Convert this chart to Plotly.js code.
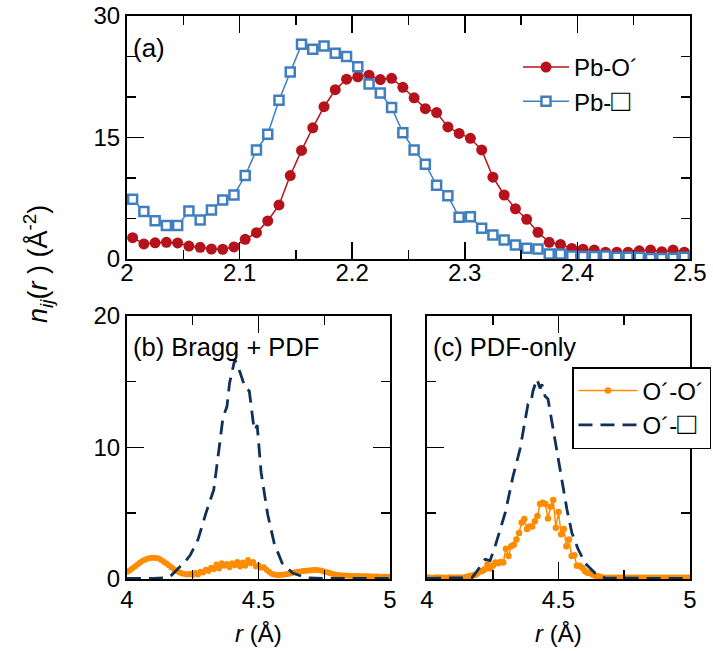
<!DOCTYPE html>
<html>
<head>
<meta charset="utf-8">
<script src="https://cdn.plot.ly/plotly-3.0.1.min.js"></script>
<style>
html,body{margin:0;padding:0;background:#fff;}
#chart{width:713px;height:651px;}
</style>
</head>
<body>
<div id="chart"></div>
<script>
// ---------- Panel (a): Pb-O' and Pb-vacancy ----------
var rA = [2.005,2.015,2.025,2.035,2.045,2.055,2.065,2.075,2.085,2.095,
          2.105,2.115,2.125,2.135,2.145,2.155,2.165,2.175,2.185,2.195,
          2.205,2.215,2.225,2.235,2.245,2.255,2.265,2.275,2.285,2.295,
          2.305,2.315,2.325,2.335,2.345,2.355,2.365,2.375,2.385,2.395,
          2.405,2.415,2.425,2.435,2.445,2.455,2.465,2.475,2.485,2.495];
var nPbO = [2.63,1.85,2.0,2.05,1.98,1.6,1.44,1.23,1.2,1.48,
            2.43,3.25,4.69,6.67,10.3,13.4,16.2,18.8,20.9,22.2,
            22.5,22.7,22.15,22.3,21.2,19.9,18.56,18.07,16.3,15.5,
            14.9,13.46,10.1,7.9,6.2,4.9,3.3,2.06,1.8,1.3,
            1.2,1.1,0.83,0.83,0.83,1.0,1.1,0.9,1.1,0.83];
var nPbV = [7.37,5.85,4.73,4.12,4.12,5.93,4.82,6.05,7.29,7.9,
            10.3,13.46,15.4,19.6,23.1,26.5,25.9,26.3,25.4,25.0,
            23.75,21.6,20.5,18.7,15.6,13.46,11.7,9.1,7.8,5.15,
            5.2,3.8,2.96,2.35,1.73,1.32,1.24,0.62,0.62,0.37,
            0.29,0.29,0.37,0.21,0.21,0.21,0.05,0.05,0.08,0.2];

// ---------- Panels (b) and (c): O'-O' and O'-vacancy ----------
var rOO = [4.00,4.01,4.02,4.03,4.04,4.05,4.06,4.07,4.08,4.09,
           4.10,4.11,4.12,4.13,4.14,4.15,4.16,4.17,4.18,4.19,
           4.20,4.21,4.22,4.23,4.24,4.25,4.26,4.27,4.28,4.29,
           4.30,4.31,4.32,4.33,4.34,4.35,4.36,4.37,4.38,4.39,
           4.40,4.41,4.42,4.43,4.44,4.45,4.46,4.47,4.48,4.49,
           4.50,4.51,4.52,4.53,4.54,4.55,4.56,4.57,4.58,4.59,
           4.60,4.61,4.62,4.63,4.64,4.65,4.66,4.67,4.68,4.69,
           4.70,4.71,4.72,4.73,4.74,4.75,4.76,4.77,4.78,4.79,
           4.80,4.81,4.82,4.83,4.84,4.85,4.86,4.87,4.88,4.89,
           4.90,4.91,4.92,4.93,4.94,4.95,4.96,4.97,4.98,4.99,5.00];
var nOO_b = [0.55,0.65,0.8,0.95,1.1,1.25,1.38,1.48,1.55,1.6,
             1.62,1.6,1.55,1.45,1.32,1.18,1.02,0.88,0.72,0.6,
             0.5,0.42,0.38,0.35,0.4,0.3,0.45,0.35,0.55,0.5,
             0.7,0.6,0.85,0.75,1.1,0.8,1.2,1.0,1.15,0.9,
             1.2,1.05,1.3,0.95,1.25,1.0,1.45,1.2,1.3,0.95,
             1.05,0.85,0.9,0.7,0.55,0.4,0.35,0.3,0.3,0.32,
             0.35,0.38,0.42,0.48,0.52,0.55,0.58,0.6,0.62,0.65,
             0.66,0.68,0.68,0.66,0.63,0.58,0.52,0.46,0.4,0.35,
             0.3,0.28,0.27,0.26,0.25,0.24,0.23,0.22,0.22,0.21,
             0.2,0.2,0.2,0.19,0.19,0.19,0.18,0.18,0.18,0.18,0.18];
var nOO_c = [0.12,0.1,0.08,0.1,0.12,0.1,0.1,0.08,0.1,0.12,
             0.1,0.1,0.12,0.1,0.1,0.15,0.2,0.25,0.3,0.4,
             0.55,0.6,0.75,1.1,0.8,1.0,1.25,1.2,1.3,1.25,
             2.3,1.75,2.5,2.6,3.0,3.5,4.3,4.56,3.8,4.0,
             4.0,4.4,4.8,5.7,5.8,5.7,4.6,5.5,6.0,3.9,
             5.1,3.4,3.8,2.5,3.0,1.75,1.8,1.0,1.0,0.86,
             0.6,0.48,0.45,0.35,0.25,0.2,0.15,0.1,0.1,0.1,
             0.1,0.1,0.1,0.1,0.1,0.1,0.1,0.1,0.1,0.1,
             0.1,0.1,0.1,0.1,0.1,0.1,0.1,0.1,0.1,0.1,
             0.1,0.1,0.1,0.1,0.1,0.1,0.1,0.1,0.1,0.1,0.1];

var rOV_b = [4.00,4.05,4.10,4.15,4.17,4.19,4.22,4.24,4.27,4.30,
             4.33,4.35,4.365,4.38,4.39,4.41,4.43,4.45,4.465,4.48,
             4.487,4.495,4.51,4.535,4.56,4.59,4.63,4.68,4.75,4.85,5.00];
var nOV_b = [0.05,0.03,0.05,0.1,0.3,0.7,1.3,1.8,3.0,5.0,
             6.8,9.9,12.3,13.1,14.9,16.7,15.7,14.5,14.3,11.9,
             11.3,11.7,8.1,4.9,2.7,1.2,0.45,0.1,0.05,0.05,0.05];
var rOV_c = [4.00,4.05,4.10,4.15,4.171,4.183,4.205,4.221,4.24,4.259,
             4.297,4.327,4.354,4.373,4.384,4.395,4.403,4.418,4.43,4.437,
             4.449,4.46,4.475,4.494,4.513,4.532,4.551,4.574,4.601,4.639,
             4.677,4.75,4.85,5.00];
var nOV_c = [0.05,0.05,0.05,0.05,0.1,0.4,1.0,1.5,1.4,2.5,
             5.0,7.8,9.9,12.2,13.3,13.4,14.3,15.2,14.5,14.8,
             13.9,13.7,12.0,9.9,7.5,5.3,3.5,2.3,1.2,0.45,
             0.08,0.05,0.05,0.05];

var tickA_y = [0,15,30];
var tickBC_x = [4,4.5,5];
var tickBC_y = [0,10,20];

var RED = '#b5121b', BLUE = '#3f7fbf', ORANGE = '#ff8c00', NAVY = '#0f3057';
var FONT = 'Liberation Sans, Arial, sans-serif';
var SQ = '<span style="font-size:31px">\u25a1</span>';

var traces = [
  {x: rA, y: nPbO, xaxis:'x', yaxis:'y', name:'Pb-O\u00b4', legend:'legend',
   mode:'lines+markers', line:{color:RED, width:1.5},
   marker:{symbol:'circle', size:11, color:RED}},
  {x: rA, y: nPbV, xaxis:'x', yaxis:'y', name:'Pb-' + SQ, legend:'legend',
   mode:'lines+markers', line:{color:BLUE, width:1.5},
   marker:{symbol:'square', size:9, color:'#ffffff', line:{color:BLUE, width:2.5}}},
  {x: rOO, y: nOO_b, xaxis:'x2', yaxis:'y2', showlegend:false,
   mode:'lines+markers', line:{color:ORANGE, width:2.5},
   marker:{symbol:'circle', size:6, color:ORANGE}},
  {x: rOV_b, y: nOV_b, xaxis:'x2', yaxis:'y2', showlegend:false,
   mode:'lines', line:{color:NAVY, width:2.8, dash:'14px,8px'}},
  {x: rOO, y: nOO_c, xaxis:'x3', yaxis:'y3', name:'O\u00b4-O\u00b4', legend:'legend2',
   mode:'lines+markers', line:{color:ORANGE, width:1.5},
   marker:{symbol:'circle', size:6.5, color:ORANGE}},
  {x: rOV_c, y: nOV_c, xaxis:'x3', yaxis:'y3', name:'O\u00b4-' + SQ, legend:'legend2',
   mode:'lines', line:{color:NAVY, width:2.8, dash:'14px,8px'}}
];

function ax(extra){
  var base = {
    showline:true, linecolor:'#000', linewidth:2, mirror:'allticks',
    ticks:'inside', ticklen:17, tickwidth:1.5, tickcolor:'#000',
    showgrid:false, zeroline:false, fixedrange:true,
    tickfont:{family:FONT, size:24, color:'#000'}
  };
  for (var k in extra) base[k] = extra[k];
  return base;
}
var minorStyle = function(d){ return {dtick:d, ticks:'inside', ticklen:9, tickwidth:1.5, tickcolor:'#000', showgrid:false}; };

var layout = {
  width:713, height:651,
  margin:{l:0, r:0, t:0, b:0},
  paper_bgcolor:'#fff', plot_bgcolor:'#fff',
  font:{family:FONT, color:'#000'},
  xaxis: ax({domain:[0.1781,0.9677], anchor:'y', range:[2,2.5], tick0:2, dtick:0.1,
             ticklabelstandoff:-9, minor:minorStyle(0.05)}),
  yaxis: ax({domain:[0.6022,0.9754], anchor:'x', range:[0,30], tickvals:tickA_y,
             minor:minorStyle(5)}),
  xaxis2: ax({domain:[0.1781,0.5470], anchor:'y2', range:[4,5], tickvals:tickBC_x,
              ticklabelstandoff:-2, minor:minorStyle(0.25)}),
  yaxis2: ax({domain:[0.1106,0.5146], anchor:'x2', range:[0,20], tickvals:tickBC_y,
              minor:minorStyle(5)}),
  xaxis3: ax({domain:[0.5989,0.9677], anchor:'y3', range:[4,5], tickvals:tickBC_x,
              ticklabelstandoff:-2, minor:minorStyle(0.25)}),
  yaxis3: ax({domain:[0.1106,0.5146], anchor:'x3', range:[0,20], tickvals:tickBC_y,
              showticklabels:false, minor:minorStyle(5)}),
  legend:{x:518/713, y:(651-45)/651, xanchor:'left', yanchor:'top',
          bgcolor:'rgba(0,0,0,0)', borderwidth:0,
          font:{family:FONT, size:24, color:'#000'}, itemwidth:46, tracegroupgap:0},
  legend2:{x:572/713, y:(651-367)/651, xanchor:'left', yanchor:'top',
          bgcolor:'#fff', bordercolor:'#000', borderwidth:1.5,
          font:{family:FONT, size:24, color:'#000'}, itemwidth:59, tracegroupgap:0},
  showlegend:true,
  annotations:[
    {xref:'paper', yref:'paper', x:131/713, y:(651-48)/651, xanchor:'left', yanchor:'middle',
     text:'(a)', showarrow:false, font:{family:FONT, size:26, color:'#000'}},
    {xref:'paper', yref:'paper', x:131/713, y:(651-347)/651, xanchor:'left', yanchor:'middle',
     text:'(b) Bragg + PDF', showarrow:false, font:{family:FONT, size:25.5, color:'#000'}},
    {xref:'paper', yref:'paper', x:431/713, y:(651-347)/651, xanchor:'left', yanchor:'middle',
     text:'(c) PDF-only', showarrow:false, font:{family:FONT, size:25.5, color:'#000'}},
    {xref:'paper', yref:'paper', x:38/713, y:(651-264)/651, xanchor:'center', yanchor:'middle',
     textangle:-90, text:'<i>n</i><sub><i>ij</i></sub>(<i>r</i> ) (Å<sup>-2</sup>)',
     showarrow:false, font:{family:FONT, size:27, color:'#000'}},
    {xref:'paper', yref:'paper', x:258/713, y:(651-633)/651, xanchor:'center', yanchor:'middle',
     text:'<i>r</i> (Å)', showarrow:false, font:{family:FONT, size:24, color:'#000'}},
    {xref:'paper', yref:'paper', x:558/713, y:(651-633)/651, xanchor:'center', yanchor:'middle',
     text:'<i>r</i> (Å)', showarrow:false, font:{family:FONT, size:24, color:'#000'}}
  ]
};

Plotly.newPlot('chart', traces, layout, {displayModeBar:false, staticPlot:true});
</script>
</body>
</html>
